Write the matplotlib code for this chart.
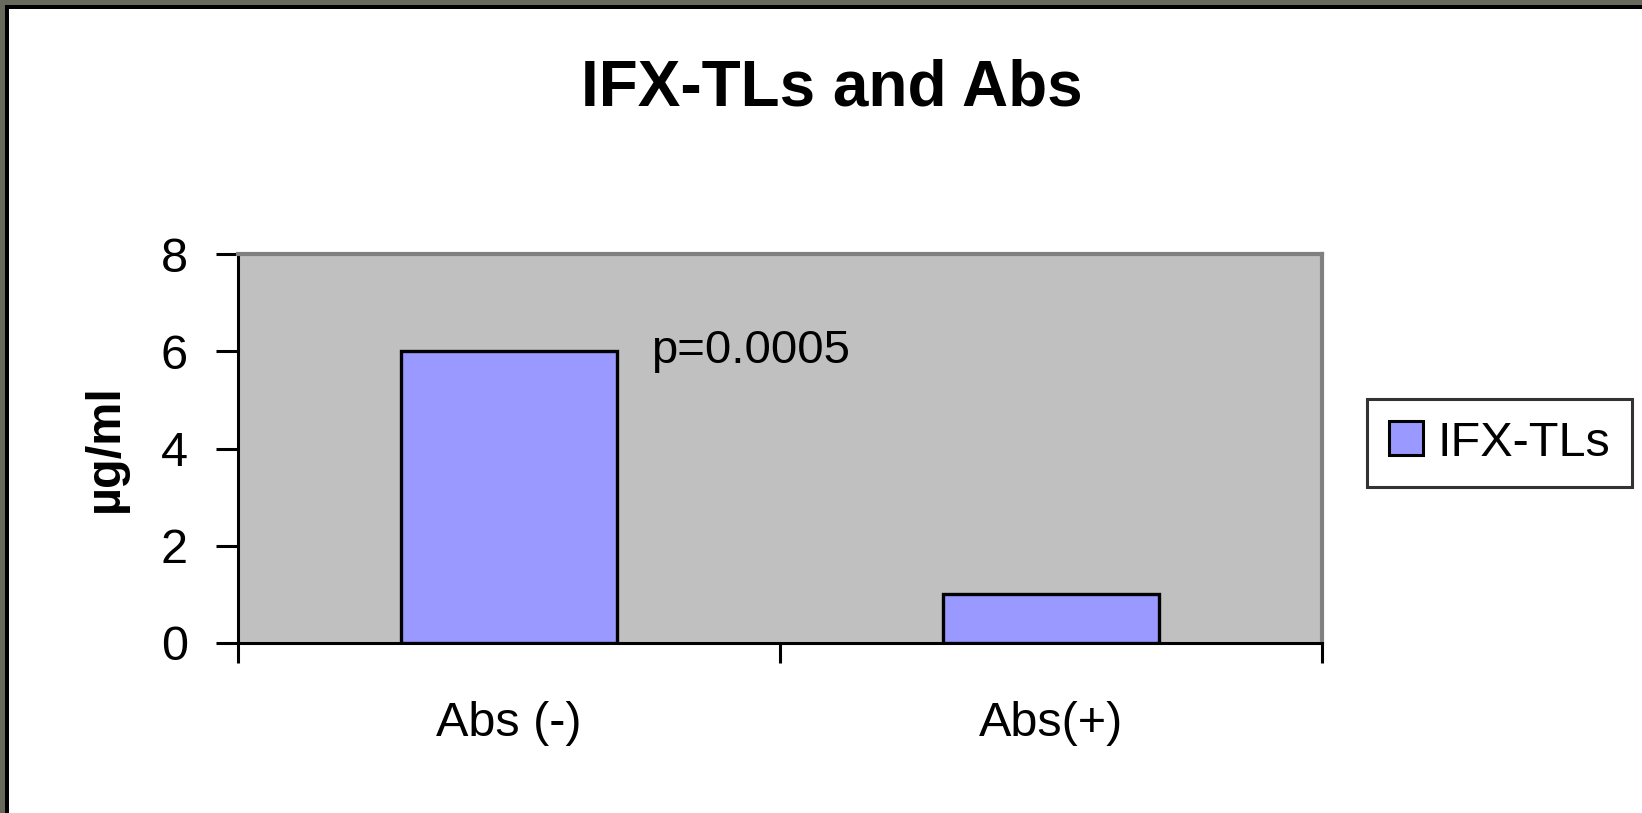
import matplotlib
matplotlib.use("Agg")
import matplotlib.pyplot as plt
from matplotlib.patches import Rectangle, Patch

categories = ["Abs (-)", "Abs(+)"]
values = [6, 1]
series_name = "IFX-TLs"
title = "IFX-TLs and Abs"
ylabel = "µg/ml"
annotation = "p=0.0005"
yticks = [0, 2, 4, 6, 8]

plt.rcParams['font.family'] = ['Liberation Sans', 'DejaVu Sans']

W, H = 1642, 813
fig = plt.figure(figsize=(W / 100, H / 100), dpi=100)
fig.patch.set_facecolor("white")

ax = fig.add_axes([238 / W, 1 - 643 / H, (1322 - 238) / W, (643 - 254) / H])
ax.set_facecolor("#C0C0C0")

xpos = [i + 0.5 for i in range(len(categories))]
ax.bar(xpos, values, width=0.4, color="#9999FF", edgecolor="black",
       linewidth=2.4, label=series_name, zorder=3)

ax.set_xlim(0, len(categories))
ax.set_ylim(0, 8)
ax.set_yticks(yticks)
ax.set_yticklabels([str(t) for t in yticks], fontsize=35)
ax.tick_params(axis="y", direction="out", length=16, width=2.2, pad=20)

ax.set_xticks(range(len(categories) + 1))
ax.set_xticklabels([])
ax.tick_params(axis="x", which="major", direction="out", length=14.5, width=2.2)
ax.set_xticks(xpos, minor=True)
ax.set_xticklabels(categories, minor=True, fontsize=35)
ax.tick_params(axis="x", which="minor", length=0, pad=42)

for s in ["left", "bottom"]:
    ax.spines[s].set_color("black")
    ax.spines[s].set_linewidth(2.2)
for s in ["top", "right"]:
    ax.spines[s].set_color("#808080")
    ax.spines[s].set_linewidth(3)

ax.set_ylabel(ylabel, fontsize=35, fontweight="bold")
ax.yaxis.set_label_coords(-(238 - 128) / (1322 - 238), 0.5)

ax.text(0.762, 6, annotation, fontsize=34, va="center", ha="left")

fig.text(832 / W, 1 - 105 / H, title, fontsize=46, fontweight="bold",
         ha="center", va="baseline")

leg = fig.legend(handles=[Patch(facecolor="#9999FF", edgecolor="black", linewidth=2.2)],
                 labels=[series_name], loc="center left",
                 bbox_to_anchor=(1367 / W, 1 - 443 / H), fontsize=35,
                 frameon=True, fancybox=False, edgecolor="black",
                 handlelength=0.7, handleheight=0.7, handletextpad=0.3,
                 borderpad=0.45, borderaxespad=0)
leg.get_frame().set_linewidth(2.2)

# outer frame (top and left visible)
gray = "#686A5C"
fig.patches.append(Rectangle((0, 0), 5 / W, 1, transform=fig.transFigure,
                             facecolor=gray, edgecolor="none"))
fig.patches.append(Rectangle((0, 1 - 5 / H), 1, 5 / H, transform=fig.transFigure,
                             facecolor=gray, edgecolor="none"))
fig.patches.append(Rectangle((5 / W, 0), 4 / W, 1 - 5 / H, transform=fig.transFigure,
                             facecolor="black", edgecolor="none"))
fig.patches.append(Rectangle((5 / W, 1 - 9 / H), 1, 4 / H, transform=fig.transFigure,
                             facecolor="black", edgecolor="none"))

fig.savefig("out.png", dpi=100)
